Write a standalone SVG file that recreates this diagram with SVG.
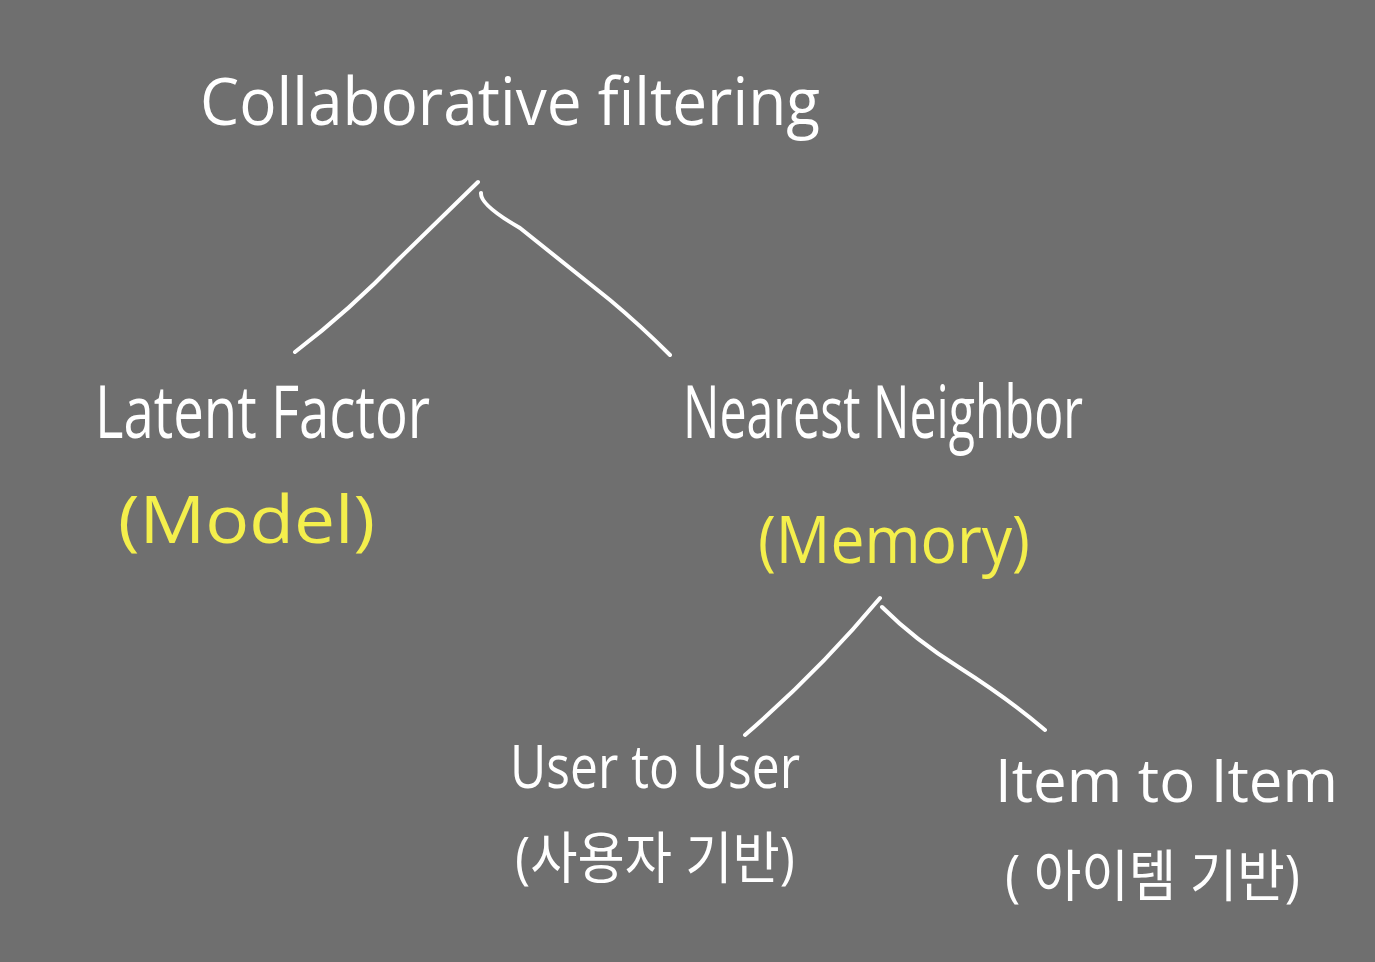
<svg xmlns="http://www.w3.org/2000/svg" width="1375" height="962" viewBox="0 0 1375 962">
<style>
.t{font-family:"Open Sans","Noto Sans","Noto Sans CJK KR",sans-serif;fill:#ffffff;}
.y{fill:#f4ef4c;}
.e{fill:none;stroke:#ffffff;stroke-width:4;stroke-linecap:round;stroke-linejoin:round;}
</style>
<rect width="1375" height="962" fill="#6f6f6f"/>
<g id="connectors">
<path class="e" d="M478,182 L400,258 Q350,310 295,352"/>
<path class="e" d="M481,193 Q480,205 520,228 L610,300 Q640,325 670,355"/>
<path class="e" d="M880,598 Q820,670 745,735"/>
<path class="e" d="M882,607 Q915,640 960,668 Q1010,700 1045,730"/>
</g>
<g id="root"><text class="t" x="200" y="125" font-size="66" textLength="620" lengthAdjust="spacingAndGlyphs">Collaborative filtering</text></g>
<g id="latent">
<text class="t" x="95" y="438" font-size="74" textLength="335" lengthAdjust="spacingAndGlyphs">Latent Factor</text>
<text class="t y" x="118" y="543" font-size="66" textLength="257" lengthAdjust="spacingAndGlyphs">(Model)</text>
</g>
<g id="nearest">
<text class="t" x="683" y="438" font-size="74" textLength="400" lengthAdjust="spacingAndGlyphs">Nearest Neighbor</text>
<text class="t y" x="758" y="563" font-size="66" textLength="272" lengthAdjust="spacingAndGlyphs">(Memory)</text>
</g>
<g id="user">
<text class="t" x="510" y="788" font-size="60" textLength="290" lengthAdjust="spacingAndGlyphs">User to User</text>
<text class="t" x="515" y="878" font-size="56" textLength="280" lengthAdjust="spacingAndGlyphs">(사용자 기반)</text>
</g>
<g id="item">
<text class="t" x="995" y="802" font-size="60" textLength="343" lengthAdjust="spacingAndGlyphs">Item to Item</text>
<text class="t" x="1005" y="896" font-size="56" textLength="295" lengthAdjust="spacingAndGlyphs">( 아이템 기반)</text>
</g>
</svg>
